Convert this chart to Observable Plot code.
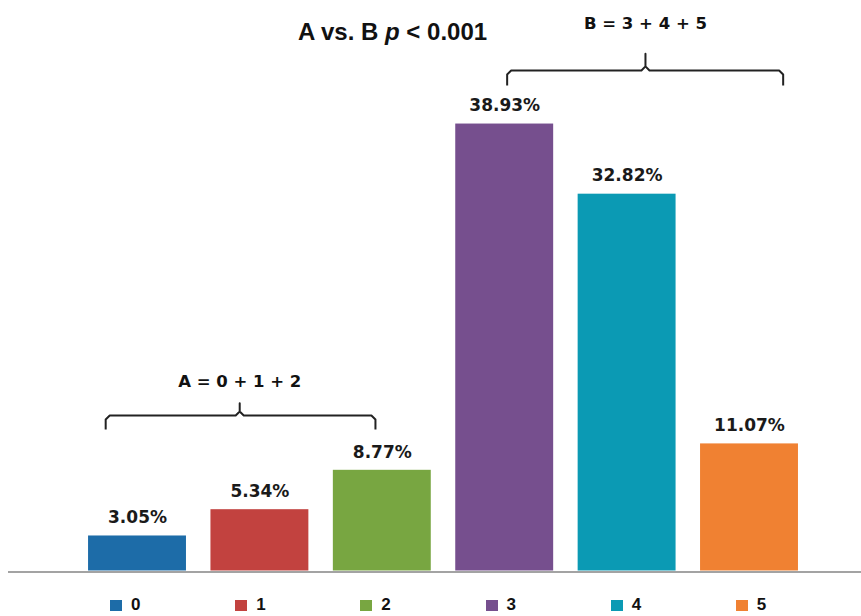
<!DOCTYPE html>
<html>
<head>
<meta charset="utf-8">
<script src="https://cdn.jsdelivr.net/npm/d3@7"></script>
<script src="https://cdn.jsdelivr.net/npm/@observablehq/plot@0.6"></script>
<style>
  html, body { margin: 0; padding: 0; background: #fff; }
  #wrap { position: relative; width: 861px; height: 616px; overflow: hidden; }
  #title { position: absolute; left: 0; width: 785px; top: 20px; text-align: center;
           font: bold 24px/24px "Liberation Sans", Arial, sans-serif; color: #111; }
  #legend { display: flex; padding-left: 110px; margin-top: 10px; }
  .item { display: flex; align-items: center; width: 129.4px; height: 18px;
          font: bold 17px/18px "Liberation Sans", Arial, sans-serif; color: #111; }
  .sw { width: 12px; height: 11px; margin-right: 9px; }
</style>
</head>
<body>
<div id="wrap">
  <div id="chart"></div>
  <div id="legend"></div>
  <div id="title">A vs. B <i>p</i> &lt; 0.001</div>
</div>
<script>
// ---- data ----
const categories = ["0", "1", "2", "3", "4", "5"];
const values = [3.05, 5.34, 8.77, 38.93, 32.82, 11.07];
const colors = ["#1d6ca8", "#c2423f", "#78a641", "#764f8e", "#0b9ab4", "#f08132"];

// group annotations (braces), in data units (x: category index, y: percent)
const groupLabels = ["A = 0 + 1 + 2", "B = 3 + 4 + 5"];
const groupFrom = [-0.26, 3.02];
const groupTo = [1.944, 5.275];
const groupMid = [0.835, 4.15];
const braceBar = [13.54, 43.6];
const braceEnd = [12.33, 42.29];
const braceTip = [14.62, 45.05];
const groupLabelY = [16.01, 47.23];

// ---- build tables ----
const bars = categories.map((c, i) => ({cat: c, i, value: values[i], color: colors[i]}));

const rx = 0.033, ry = 0.35;
const bracePts = [];
groupLabels.forEach((g, k) => {
  const x0 = groupFrom[k], x1 = groupTo[k], m = groupMid[k], y = braceBar[k], e = braceEnd[k], t = braceTip[k];
  [[x0, e], [x0, y - ry], [x0 + rx, y], [m - rx, y], [m, y + ry], [m, t],
   [m, y + ry], [m + rx, y], [x1 - rx, y], [x1, y - ry], [x1, e]]
    .forEach(([x, yy]) => bracePts.push({g, x, y: yy}));
});
const groups = groupLabels.map((g, k) => ({g, x: groupMid[k], y: groupLabelY[k]}));

const chart = Plot.plot({
  width: 861,
  height: 586,
  marginLeft: 8,
  marginRight: 0,
  marginTop: 0,
  marginBottom: 15.5,
  x: {type: "linear", domain: [-1.054, 5.915], axis: null},
  y: {domain: [0, 49.69], axis: null},
  style: {background: "#fff", overflow: "visible"},
  marks: [
    Plot.ruleY([0], {stroke: "#a3a3a3", strokeWidth: 2, dy: 1}),
    Plot.rectY(bars, {x1: d => d.i - 0.4, x2: d => d.i + 0.4, y1: 0, y2: "value", fill: "color"}),
    Plot.text(bars, {x: "i", y: "value", text: d => d.value.toFixed(2) + "%", dy: -12.7,
      lineAnchor: "bottom", fontFamily: "DejaVu Sans", fontWeight: "bold", fontSize: 17, fill: "#1a1a1a"}),
    Plot.line(bracePts, {x: "x", y: "y", z: "g", stroke: "#222", strokeWidth: 2,
      strokeLinejoin: "round", strokeLinecap: "butt"}),
    Plot.text(groups, {x: "x", y: "y", text: "g", lineAnchor: "bottom",
      fontFamily: "DejaVu Sans", fontWeight: "bold", fontSize: 16.5, fill: "#111"})
  ]
});
document.getElementById("chart").appendChild(chart);

const legend = document.getElementById("legend");
categories.forEach((c, i) => {
  const it = document.createElement("div");
  it.className = "item";
  const sw = document.createElement("span");
  sw.className = "sw";
  sw.style.background = colors[i];
  const lb = document.createElement("span");
  lb.textContent = c;
  it.appendChild(sw);
  it.appendChild(lb);
  legend.appendChild(it);
});
</script>
</body>
</html>
